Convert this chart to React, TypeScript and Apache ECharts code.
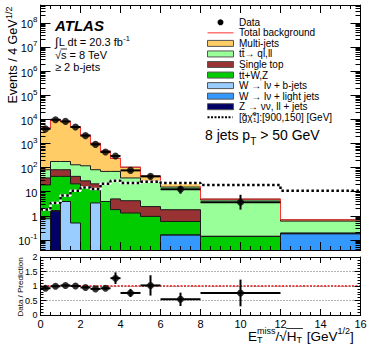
import React, { useEffect, useRef } from 'react';
import * as echarts from 'echarts';

const FONT = '"Liberation Sans", Arial, Helvetica, sans-serif';

// ---------------- data ----------------
const binEdges = [0, 0.5, 1, 1.5, 2, 2.5, 3, 3.5, 4, 5, 6, 8, 12, 16];

const multiJets = [4269, 9522, 7822, 4670, 2082, 929, 411, 171, 66, 17, 6.5, 0.4, 0.08];
const ttbarQL = [44, 97, 97, 87, 90, 60, 65, 64, 32.8, 24.6, 13.7, 4.36, 0.41];
const singleTop = [18, 38, 38, 22, 12.5, 9, 0, 3.2, 2.9, 1.46, 1.2, 0, 0];
const ttbarWZ = [18.25, 41.4, 39.1, 20.5, 15.5, 8.6, 3.9, 1.8, 1.3, 0.94, 0.42, 0.14, 0.01];
const wBJets = [0.75, 0, 3.9, 0.5, 0, 3.4, 0, 0, 0, 0, 0, 0, 0];
const wLightJets = [0, 0, 0, 0, 0, 0, 0, 0, 0, 0, 0.16, 0, 0.18];
const zJets = [0, 1.6, 0, 0, 0, 0, 0, 0, 0, 0, 0, 0, 0];
const signal = [1.8, 3.4, 7, 11, 15, 13, 21, 28, 23, 26, 23, 19, 11];

const dataX = [0.25, 0.75, 1.25, 1.75, 2.25, 2.75, 3.25, 3.75, 4.5, 5.5, 7, 10];
const dataXLow = [0, 0.5, 1, 1.5, 2, 2.5, 3, 3.5, 4, 5, 6, 8];
const dataXHigh = [0.5, 1, 1.5, 2, 2.5, 3, 3.5, 4, 5, 6, 8, 12];
const dataY = [4000, 9600, 8200, 4800, 2100, 910, 440, 300, 76, 43, 12.5, 3.6];
const dataErrLow = [63, 98, 91, 69, 46, 30, 21, 17, 9, 7, 4.3, 1.8];
const dataErrHigh = [63, 98, 91, 69, 46, 30, 21, 17, 9, 7, 5, 3.8];

const ratioY = [0.92, 0.99, 1.02, 1.0, 0.95, 0.9, 0.92, 1.27, 0.76, 1.02, 0.54, 0.76];
const ratioErr = [0.03, 0.02, 0.02, 0.02, 0.03, 0.04, 0.05, 0.2, 0.14, 0.35, 0.23, 0.46];

const yMajorTicks = [0.1, 1, 10, 100, 1000, 1e4, 1e5, 1e6, 1e7, 1e8];
const Y_MIN = 0.038;
const Y_MAX = 5.5e8;

const layerLabels = [
  'Multi-jets',
  'tt\u0304\u2192 ql,ll',
  'Single top',
  'tt\u0304+W,Z',
  'W \u2192 l\u03bd + b-jets',
  'W \u2192 l\u03bd + light jets',
  'Z \u2192 \u03bd\u03bd, ll + jets',
];
const layerValues = [multiJets, ttbarQL, singleTop, ttbarWZ, wBJets, wLightJets, zJets];
const layerColors = ['#ffcc66', '#99ff99', '#993333', '#00cc00', '#99ccff', '#3399ff', '#000066'];

// ---------------- helpers ----------------
function stepPoints(vals: number[], floor = 1e-4) {
  const pts: number[][] = [];
  vals.forEach((v, i) => {
    const y = v > 0 ? v : floor;
    pts.push([binEdges[i], y], [binEdges[i + 1], y]);
  });
  return pts;
}

let measureCtx: CanvasRenderingContext2D | null = null;
function measure(text: string, size: number, weight = 'normal', style = 'normal') {
  if (!measureCtx) measureCtx = document.createElement('canvas').getContext('2d');
  if (!measureCtx) return text.length * size * 0.55;
  measureCtx.font = `${style} ${weight} ${size}px ${FONT}`;
  return measureCtx.measureText(text).width;
}

function txt(x: number, y: number, text: string, size: number, o: any = {}) {
  return {
    type: 'text',
    x,
    y,
    z: 100,
    silent: true,
    style: {
      text,
      fontSize: size,
      fontFamily: FONT,
      fontWeight: o.weight || 'normal',
      fontStyle: o.style || 'normal',
      fill: '#000',
      align: o.align || 'left',
      verticalAlign: o.va || 'middle',
      textAlign: o.align || 'left',
      textVerticalAlign: o.va || 'middle',
    },
  };
}

function hline(x1: number, y1: number, x2: number, y2: number, stroke: string, w: number, dash?: number[]) {
  return {
    type: 'line',
    z: 100,
    silent: true,
    shape: { x1, y1, x2, y2 },
    style: { stroke, lineWidth: w, lineDash: dash },
  };
}

function errRender(params: any, api: any) {
  const xc = api.value(0);
  const y = api.value(1);
  const lo = api.value(2);
  const hi = api.value(3);
  const x0 = api.value(4);
  const x1 = api.value(5);
  const pL = api.coord([x0, y]);
  const pR = api.coord([x1, y]);
  const pLo = api.coord([xc, lo]);
  const pHi = api.coord([xc, hi]);
  return {
    type: 'group',
    children: [
      { type: 'line', shape: { x1: pL[0], y1: pL[1], x2: pR[0], y2: pR[1] }, style: { stroke: '#000', lineWidth: 2 } },
      { type: 'line', shape: { x1: pLo[0], y1: pLo[1], x2: pHi[0], y2: pHi[1] }, style: { stroke: '#000', lineWidth: 2 } },
    ],
  };
}

function buildOption() {
  const nb = binEdges.length - 1;
  const cumulative = layerValues.map((_, k) =>
    Array.from({ length: nb }, (_, i) => layerValues.slice(k).reduce((s, arr) => s + arr[i], 0))
  );

  const yMinorTicks: number[] = [];
  for (let e = -2; e <= 8; e++) {
    for (let m = 2; m <= 9; m++) {
      const v = m * Math.pow(10, e);
      if (v > Y_MIN && v < Y_MAX) yMinorTicks.push(v);
    }
  }

  const lineStyle = { color: '#000', width: 1 };
  const axisLine = { show: true, onZero: false, lineStyle };

  const xAxis = (gridIndex: number, position: string, labels: boolean, len: number) => ({
    type: 'value',
    gridIndex,
    position,
    min: 0,
    max: 16,
    interval: 2,
    z: 5,
    axisLine,
    axisTick: { show: true, inside: true, length: len, lineStyle },
    minorTick: { show: true, splitNumber: 4, length: len / 2, lineStyle },
    axisLabel: { show: labels, fontSize: 11, fontFamily: FONT, color: '#000', margin: 3 },
    splitLine: { show: false },
  });

  const yLog = (position: string, values: number[], len: number, withLabels: boolean, showLine: boolean) => ({
    type: 'log',
    logBase: 10,
    gridIndex: 0,
    position,
    min: Y_MIN,
    max: Y_MAX,
    z: 5,
    axisLine: { show: showLine, onZero: false, lineStyle },
    axisTick: { show: true, inside: true, length: len, customValues: values, lineStyle },
    minorTick: { show: false },
    splitLine: { show: false },
    axisLabel: withLabels
      ? {
          show: true,
          customValues: yMajorTicks,
          margin: 3,
          formatter: (v: number) => {
            const e = Math.round(Math.log10(v));
            if (e === 0) return '{b|1}';
            if (e === 1) return '{b|10}';
            return `{b|10}{s|${e}}`;
          },
          rich: {
            b: { fontSize: 11, fontFamily: FONT, color: '#000', lineHeight: 14, verticalAlign: 'bottom' },
            s: { fontSize: 8, fontFamily: FONT, color: '#000', lineHeight: 7, verticalAlign: 'top' },
          },
        }
      : { show: false },
  });

  const yRatio = (position: string, labels: boolean) => ({
    type: 'value',
    gridIndex: 1,
    position,
    min: 0,
    max: 2,
    interval: 0.5,
    z: 5,
    axisLine,
    axisTick: { show: true, inside: true, length: 6, lineStyle },
    minorTick: { show: true, splitNumber: 5, length: 3, lineStyle },
    axisLabel: { show: labels, fontSize: 9, fontFamily: FONT, color: '#000', margin: 3 },
    splitLine: labels ? { show: true, lineStyle: { color: '#666', width: 1, type: [1, 2] } } : { show: false },
  });

  const series: any[] = [];
  layerValues.forEach((_, k) => {
    series.push({
      type: 'line',
      name: layerLabels[k],
      xAxisIndex: 0,
      yAxisIndex: 0,
      data: stepPoints(cumulative[k]),
      symbol: 'none',
      showSymbol: false,
      silent: true,
      clip: true,
      z: 2,
      lineStyle: { color: '#1a1a1a', width: 1 },
      areaStyle: { color: layerColors[k], opacity: 1, origin: 'start' },
    });
  });
  series.push({
    type: 'line',
    name: 'Total background',
    xAxisIndex: 0,
    yAxisIndex: 0,
    data: stepPoints(cumulative[0]),
    symbol: 'none',
    silent: true,
    clip: true,
    z: 3,
    lineStyle: { color: '#ff3333', width: 1 },
  });
  series.push({
    type: 'line',
    xAxisIndex: 0,
    yAxisIndex: 0,
    data: stepPoints(signal),
    symbol: 'none',
    silent: true,
    clip: true,
    z: 4,
    lineStyle: { color: '#ffffff', width: 2.5 },
  });
  series.push({
    type: 'line',
    name: 'signal',
    xAxisIndex: 0,
    yAxisIndex: 0,
    data: stepPoints(signal),
    symbol: 'none',
    silent: true,
    clip: true,
    z: 4,
    lineStyle: { color: '#000', width: 2.5, type: [2.5, 2.5] },
  });
  series.push({
    type: 'custom',
    xAxisIndex: 0,
    yAxisIndex: 0,
    z: 10,
    clip: true,
    silent: true,
    encode: { x: 0, y: 1 },
    data: dataX.map((x, i) => [x, dataY[i], dataY[i] - dataErrLow[i], dataY[i] + dataErrHigh[i], dataXLow[i], dataXHigh[i]]),
    renderItem: errRender,
  });
  series.push({
    type: 'scatter',
    name: 'Data',
    xAxisIndex: 0,
    yAxisIndex: 0,
    z: 11,
    silent: true,
    symbol: 'circle',
    symbolSize: 7,
    itemStyle: { color: '#000' },
    data: dataX.map((x, i) => [x, dataY[i]]),
  });
  series.push({
    type: 'line',
    xAxisIndex: 2,
    yAxisIndex: 4,
    data: [[0, 1], [16, 1]],
    symbol: 'none',
    silent: true,
    z: 3,
    lineStyle: { color: '#ff0000', width: 1.5, type: [2, 1.5] },
  });
  series.push({
    type: 'custom',
    xAxisIndex: 2,
    yAxisIndex: 4,
    z: 10,
    clip: true,
    silent: true,
    encode: { x: 0, y: 1 },
    data: dataX.map((x, i) => [x, ratioY[i], ratioY[i] - ratioErr[i], ratioY[i] + ratioErr[i], dataXLow[i], dataXHigh[i]]),
    renderItem: errRender,
  });
  series.push({
    type: 'scatter',
    xAxisIndex: 2,
    yAxisIndex: 4,
    z: 11,
    silent: true,
    symbol: 'circle',
    symbolSize: 7,
    itemStyle: { color: '#000' },
    data: dataX.map((x, i) => [x, ratioY[i]]),
  });

  // ---------------- graphic texts ----------------
  const g: any[] = [];
  const ax = 55;
  g.push(txt(ax, 25, 'ATLAS', 15, { weight: 'bold', style: 'italic' }));
  const wInt = measure('\u222b', 12);
  g.push(txt(ax, 41.5, '\u222b', 12));
  const l2 = 'L dt = 20.3 fb';
  g.push(txt(ax + wInt + 0.5, 41.5, l2, 11));
  g.push(txt(ax + wInt + 0.5 + measure(l2, 11), 38, '-1', 7.5));
  const wSq = measure('\u221a', 11);
  g.push(txt(ax, 54.5, '\u221a', 11));
  g.push(txt(ax + wSq, 54.5, 's = 8 TeV', 11));
  g.push(hline(ax + wSq - 0.5, 49, ax + wSq + measure('s', 11) + 0.5, 49, '#000', 0.8));
  g.push(txt(ax, 67, '\u2265 2 b-jets', 11));

  // legend
  const lx = 207.5;
  const lw = 26;
  const tx = 239;
  const rowY = (i: number) => 22.3 + i * 10.55;
  g.push({ type: 'circle', z: 100, silent: true, shape: { cx: lx + lw / 2, cy: rowY(0), r: 3 }, style: { fill: '#000' } });
  g.push(txt(tx, rowY(0), 'Data', 10));
  g.push(hline(lx, rowY(1), lx + lw, rowY(1), '#ff3333', 1));
  g.push(txt(tx, rowY(1), 'Total background', 10));
  layerLabels.forEach((lab, k) => {
    const y = rowY(k + 2);
    g.push({
      type: 'rect',
      z: 100,
      silent: true,
      shape: { x: lx, y: y - 3, width: lw, height: 6 },
      style: { fill: layerColors[k], stroke: '#555', lineWidth: 1 },
    });
    g.push(txt(tx, y, lab, 10));
  });
  const sy = rowY(9);
  g.push(hline(lx, sy, lx + lw - 1, sy, '#000', 2, [2, 1.5]));
  const s1 = '[g\u0303\u03c7\u0303';
  const w1 = measure(s1, 10);
  g.push(txt(tx, sy, s1, 10));
  g.push(txt(tx + w1 + 0.3, sy - 3.5, '0', 6));
  g.push(txt(tx + w1 + 0.3, sy + 3, '1', 6));
  g.push(txt(tx + w1 + 0.3 + measure('0', 6) + 0.3, sy, ']:[900,150] [GeV]', 10));

  // region label
  const rx = 205;
  const r1 = '8 jets p';
  const wr1 = measure(r1, 14);
  g.push(txt(rx, 135, r1, 14));
  g.push(txt(rx + wr1, 141, 'T', 10));
  g.push(txt(rx + wr1 + measure('T', 10), 135, ' > 50 GeV', 14));

  // x-axis title
  const fs = 13.5;
  const fss = 9;
  const wE = measure('E', fs);
  const wMiss = Math.max(measure('miss', fss), measure('T', fss));
  const wSl = measure('/', fs);
  const wRt = measure('\u221a', fs);
  const wH = measure('H', fs);
  const wT = measure('T', fss);
  const wGeV = measure(' [GeV', fs);
  const wHalf = measure('1/2', fss);
  const wBr = measure(']', fs);
  const total = wE + wMiss + wSl + wRt + wH + wT + wGeV + wHalf + wBr + 1;
  const xy = 336;
  let cx = Math.min(248, 357 - total);
  g.push(txt(cx, xy, 'E', fs));
  cx += wE;
  g.push(txt(cx, xy - 5.5, 'miss', fss));
  g.push(txt(cx, xy + 4, 'T', fss));
  cx += wMiss;
  g.push(txt(cx, xy, '/', fs));
  cx += wSl;
  g.push(txt(cx, xy, '\u221a', fs));
  const olStart = cx + wRt - 0.5;
  cx += wRt;
  g.push(txt(cx, xy, 'H', fs));
  cx += wH;
  g.push(txt(cx, xy + 4, 'T', fss));
  cx += wT + 1;
  g.push(hline(olStart, xy - 7.5, cx, xy - 7.5, '#000', 0.8));
  g.push(txt(cx, xy, ' [GeV', fs));
  cx += wGeV;
  g.push(txt(cx, xy - 5, '1/2', fss));
  cx += wHalf;
  g.push(txt(cx, xy, ']', fs));

  // y-axis titles (rotated)
  const ev = 'Events / 4 GeV';
  const wEv = measure(ev, 12.5);
  g.push({
    type: 'group',
    x: 13,
    y: 103.5,
    rotation: Math.PI / 2,
    z: 100,
    children: [txt(0, 0, ev, 12.5), txt(wEv + 0.5, -4.5, '1/2', 9)],
  });
  g.push({
    type: 'group',
    x: 20.5,
    y: 287,
    rotation: Math.PI / 2,
    z: 100,
    children: [txt(0, 0, 'Data / Prediction', 8, { align: 'center' })],
  });

  return {
    animation: false,
    backgroundColor: '#ffffff',
    textStyle: { fontFamily: FONT, color: '#000' },
    grid: [
      { left: 40.5, top: 5, width: 320, height: 245, outerBoundsMode: 'none', containLabel: false },
      { left: 40.5, top: 257, width: 320, height: 58, outerBoundsMode: 'none', containLabel: false },
    ],
    xAxis: [xAxis(0, 'bottom', false, 8), xAxis(0, 'top', false, 8), xAxis(1, 'bottom', true, 6), xAxis(1, 'top', false, 6)],
    yAxis: [
      yLog('left', yMajorTicks, 10, true, true),
      yLog('left', yMinorTicks, 5, false, false),
      yLog('right', yMajorTicks, 10, false, true),
      yLog('right', yMinorTicks, 5, false, false),
      yRatio('left', true),
      yRatio('right', false),
    ],
    series,
    graphic: { elements: g },
  };
}

export default function App() {
  const ref = useRef<HTMLDivElement>(null);
  useEffect(() => {
    if (!ref.current) return;
    const chart = echarts.init(ref.current, null, { renderer: 'svg' });
    chart.setOption(buildOption() as any);
    return () => chart.dispose();
  }, []);
  return (
    <div
      ref={ref}
      style={{ position: 'fixed', left: 0, top: 0, width: 374, height: 346, background: '#fff' }}
    />
  );
}
